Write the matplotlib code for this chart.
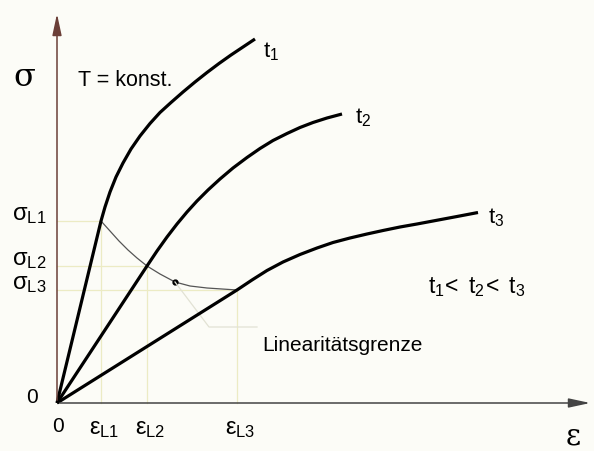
import matplotlib.pyplot as plt

# data in picture units: strain to the right of origin, stress above it
t1_eps = [0, 44, 48, 53, 59, 66, 74, 83, 93, 103, 114, 126, 138, 150, 162, 174, 186, 198]
t1_sig = [0, 182, 196, 211, 226, 240, 254, 267, 279.5, 290.5, 300.5, 311, 321, 330.5, 339.5, 348, 356, 364]
t2_eps = [0, 90, 100, 110, 120, 130, 140, 151, 163, 176, 190, 203, 216, 230, 243, 256, 270, 285]
t2_sig = [0, 137, 152, 166, 179, 191, 202, 213, 224, 235, 245.5, 254.5, 262.5, 269.5, 275.5, 280.5, 285, 289]
t3_eps = [0, 180, 195, 210, 226, 243, 260, 276, 293, 310, 326, 343, 360, 376, 400, 421]
t3_sig = [0, 113, 123, 132.5, 141, 148.5, 155, 160.5, 165, 169, 172.5, 176, 179, 182, 186.5, 190.5]
limit_eps = [44, 53, 62, 71, 80, 90, 103, 118, 133, 150, 165, 180]
limit_sig = [182, 172, 162, 153, 145, 137, 129, 121, 117, 115, 114, 113]
kink_eps = [44, 90, 180]
kink_sig = [182, 137, 113]
eps_ticks = ['$\\mathregular{\\varepsilon_{L1}}$', '$\\mathregular{\\varepsilon_{L2}}$', '$\\mathregular{\\varepsilon_{L3}}$']
sig_ticks = ['$\\mathregular{\\sigma_{L1}}$', '$\\mathregular{\\sigma_{L2}}$', '$\\mathregular{\\sigma_{L3}}$']

plt.rcParams['font.family'] = ['Liberation Sans', 'DejaVu Sans']
plt.rcParams['mathtext.fontset'] = 'custom'
plt.rcParams['mathtext.rm'] = 'Liberation Sans'
plt.rcParams['mathtext.it'] = 'Liberation Sans'

fig = plt.figure(figsize=(5.94, 4.52), dpi=100, facecolor='#fcfcf7')
ax = fig.add_axes([0, 0, 1, 1])
ax.set_xlim(-57, 537)
ax.set_ylim(-48, 404)
ax.axis('off')

guide = '#ecebc4'
for e, s in zip(kink_eps, kink_sig):
    ax.plot([0, e], [s, s], color=guide, lw=0.9)
    ax.plot([e, e], [0, s], color=guide, lw=0.9)

# axes with arrows
ax.annotate('', xy=(0, 392), xytext=(0, 0),
            arrowprops=dict(arrowstyle='-|>,head_length=1.3,head_width=0.28', color='#6b3f38', lw=1.1))
ax.annotate('', xy=(536, 0), xytext=(0, 0),
            arrowprops=dict(arrowstyle='-|>,head_length=1.3,head_width=0.28', color='#444444', lw=1.1))

ax.plot(limit_eps, limit_sig, color='#555555', lw=0.9)
ax.plot(limit_eps[7], limit_sig[7], 'o', color='black', ms=3.5)
ax.plot([118, 152, 200], [121, 76, 76], color='#e2e2d4', lw=0.9)

for xs, ys in [(t1_eps, t1_sig), (t2_eps, t2_sig), (t3_eps, t3_sig)]:
    ax.plot(xs, ys, color='black', lw=2.3, solid_capstyle='butt', solid_joinstyle='round')

fs = 16
ax.text(206, 352, '$\\mathregular{t_1}$', fontsize=fs, va='center')
ax.text(298, 286, '$\\mathregular{t_2}$', fontsize=fs, va='center')
ax.text(431, 186, '$\\mathregular{t_3}$', fontsize=fs, va='center')
ax.text(371, 117, '$\\mathregular{t_1\\!<\\ t_2\\!<\\ t_3}$', fontsize=16.5, va='center')
ax.text(205, 58, 'Linearitätsgrenze', fontsize=15, va='center')
ax.text(21, 324, 'T = konst.', fontsize=15.5, va='center')

ax.text(-33, 326, 'σ', fontsize=23, family='DejaVu Serif', ha='center', va='center')
ax.text(516, -33, 'ε', fontsize=21, family='DejaVu Serif', ha='center', va='center')

ax.text(-25, 6, '0', fontsize=15, ha='center', va='center')
ax.text(1, -23, '0', fontsize=15, ha='center', va='center')
for e, lab in zip(kink_eps, eps_ticks):
    ax.text(e + 3, -25, lab, fontsize=fs + 1, ha='center', va='center')
for s, lab in zip(kink_sig, sig_ticks):
    ax.text(-28, s + 7, lab, fontsize=fs + 1, ha='center', va='center')

fig.savefig('out.png', dpi=100, facecolor=fig.get_facecolor())
